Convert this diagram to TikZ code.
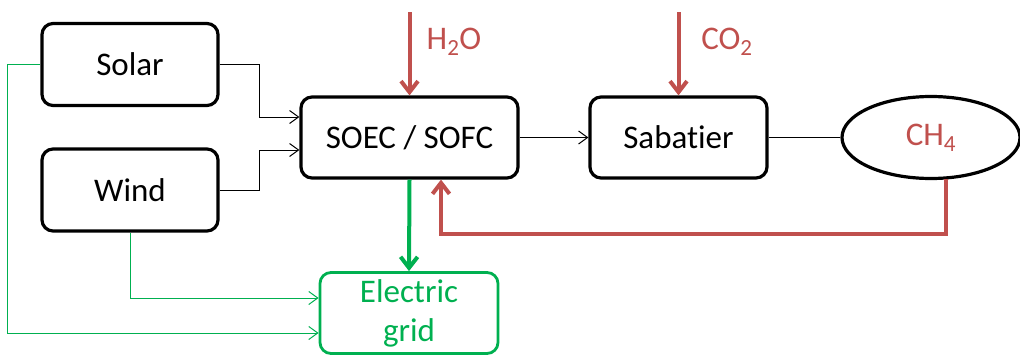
\documentclass[tikz,border=0pt]{standalone}
\usepackage{fontspec}
\setmainfont[Ligatures={NoCommon}]{Carlito}
\usetikzlibrary{arrows.meta,shapes.geometric}
\definecolor{ored}{HTML}{C0504D}
\definecolor{ogreen}{HTML}{00B050}
\begin{document}
\begin{tikzpicture}[x=1pt,y=-1pt,
  every node/.style={font=\fontsize{33}{39}\selectfont, inner sep=0pt},
  blk/.style={draw=black, line width=3.2pt, rounded corners=11pt, minimum width=176pt, minimum height=82pt},
  gblk/.style={draw=ogreen, line width=2.8pt, rounded corners=11pt, minimum width=178pt, minimum height=81pt, text=ogreen, align=center},
  thinarr/.style={line width=1pt, -{Straight Barb[length=9pt,width=13pt]}},
  thinline/.style={line width=1pt},
  gthin/.style={draw=ogreen, line width=1pt, -{Straight Barb[length=9pt,width=13pt]}},
  rthick/.style={draw=ored, line width=4pt, -{Straight Barb[length=11pt,width=17pt]}},
  gthick/.style={draw=ogreen, line width=4pt, -{Straight Barb[length=11pt,width=17pt]}},
  lbl/.style={text=ored}
]
\useasboundingbox (0,0) rectangle (1020,356);

\node[blk] (solar) at (130,64.5) {Solar};
\node[blk] (wind) at (130,190) {Wind};
\node[blk, minimum width=217pt, minimum height=81pt] (soec) at (409.5,137.5) {SOEC / SOFC};
\node[blk, minimum width=177pt, minimum height=81pt] (sab) at (678.5,137.5) {Sabatier};
\node[ellipse, draw=black, line width=3.2pt, minimum width=178pt, minimum height=82pt, text=ored] (ch4) at (931,137.5) {CH\textsubscript{4}};
\node[gblk] (grid) at (409,313) {Electric\\grid};

\node[lbl] (h2o) at (454,42) {H\textsubscript{2}O};
\node[lbl] (co2) at (727,42) {CO\textsubscript{2}};
\coordinate (h2oin) at (409.5,12);
\coordinate (co2in) at (678.5,12);

% inputs
\draw[rthick] (h2oin) -- (soec.north);
\draw[rthick] (co2in) -- (sab.north);

% solar/wind to SOEC
\draw[thinarr] (solar.east) -| (259,117) -- ([yshift=20.5pt]soec.west);
\draw[thinarr] (wind.east) -| (259,150) -- ([yshift=-12.5pt]soec.west);

% SOEC -> Sabatier -- CH4
\draw[thinarr] (soec.east) -- (sab.west);
\draw[thinline] (sab.east) -- (ch4.west);

% feedback
\coordinate (fb) at ([xshift=31.5pt]soec.south);
\draw[rthick] (ch4.-70) |- (fb |- 0,234) -- (fb);

% to grid
\draw[gthick] (soec.south) -- (grid.north);
\draw[gthin] (wind.south) |- ([yshift=15pt]grid.west);
\draw[gthin] (solar.west) -- ++(-33,0) |- ([yshift=-20pt]grid.west);
\end{tikzpicture}
\end{document}
